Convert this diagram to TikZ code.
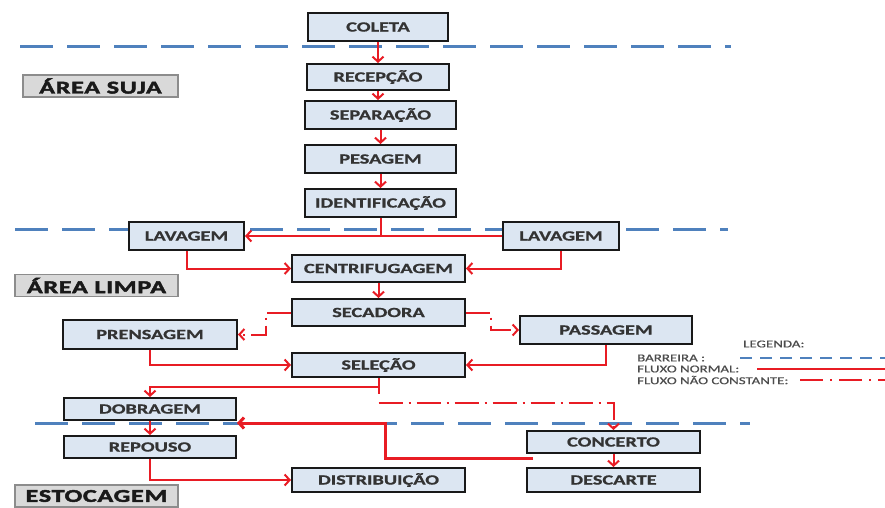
\documentclass[tikz,border=0pt]{standalone}
\usepackage{fontspec}
\usepackage{tikz}
\usetikzlibrary{arrows.meta}
\newfontfamily\boxfont[FakeStretch=1.45,FakeBold=1]{Carlito}
\newfontfamily\legfont[FakeStretch=1.42,FakeBold=0.6]{Carlito}
\newfontfamily\areafont[FakeStretch=1.45,FakeBold=2.5,LetterSpace=4]{Carlito}
\definecolor{boxfill}{RGB}{220,230,242}
\definecolor{barblue}{RGB}{79,129,189}
\definecolor{flowred}{RGB}{232,28,36}
\definecolor{areagray}{RGB}{217,217,217}

\begin{document}
\begin{tikzpicture}[x=1pt, y=-1pt,
    etapa/.style={draw=black!90, line width=2pt, fill=boxfill, inner sep=0pt,
        minimum width=173pt, minimum height=27pt, text=black!80,
        font=\boxfont\bfseries\fontsize{14pt}{16pt}\selectfont},
    area/.style={draw=black!45, line width=1.2pt, fill=areagray, inner sep=0pt,
        minimum height=22pt, text=black!90,
        font=\areafont\bfseries\fontsize{18pt}{20pt}\selectfont},
    legtxt/.style={anchor=west, inner sep=0pt, text=black!70,
        font=\legfont\fontsize{10.5pt}{12pt}\selectfont},
    barreira/.style={barblue, line width=3pt, dash pattern=on 33pt off 14pt},
    linha/.style={flowred, line width=2pt},
    flow/.style={linha, -{Straight Barb[length=5pt,width=11pt]}},
    naoconst/.style={flow, dash pattern=on 24pt off 6pt on 2pt off 6pt}]
    \useasboundingbox (0,0) rectangle (885,507);

    % barreiras
    \draw[barreira] (20,46) -- (731,46);
    \draw[barreira] (15,229) -- (728,229);
    \draw[barreira] (35,423) -- (750,423);

    % areas
    \node[area, minimum width=155pt] (suja) at (100.5,86) {ÁREA SUJA};
    \node[area, minimum width=163pt] (limpa) at (96.5,285.5) {ÁREA LIMPA};
    \node[area, minimum width=163pt] (estoc) at (96.5,496) {ESTOCAGEM};

    % etapas
    \node[etapa, minimum width=140pt, minimum height=28pt] (coleta) at (378,27) {COLETA};
    \node[etapa, minimum width=142pt, minimum height=26pt] (recep) at (378,77) {RECEPÇÃO};
    \node[etapa, minimum width=151pt, minimum height=28pt] (separ) at (380.5,115) {SEPARAÇÃO};
    \node[etapa, minimum width=151pt, minimum height=28pt] (pesag) at (380.5,159) {PESAGEM};
    \node[etapa, minimum width=151pt, minimum height=28pt] (ident) at (380.5,203) {IDENTIFICAÇÃO};
    \node[etapa, minimum width=115pt, minimum height=28pt] (lavL) at (186.5,236) {LAVAGEM};
    \node[etapa, minimum width=116pt, minimum height=28pt] (lavR) at (561,236) {LAVAGEM};
    \node[etapa] (centr) at (378.5,268.5) {CENTRIFUGAGEM};
    \node[etapa] (secad) at (378.5,312.5) {SECADORA};
    \node[etapa, minimum width=174pt, minimum height=29pt] (prens) at (150,334.5) {PRENSAGEM};
    \node[etapa, minimum width=172pt, minimum height=28pt] (passag) at (606,330) {PASSAGEM};
    \node[etapa, minimum height=24pt] (selec) at (378.5,365) {SELEÇÃO};
    \node[etapa, minimum width=172pt, minimum height=22pt] (dobr) at (150,409) {DOBRAGEM};
    \node[etapa, minimum width=172pt, minimum height=22pt] (repous) at (150,447) {REPOUSO};
    \node[etapa, minimum height=24pt] (distr) at (378.5,480) {DISTRIBUIÇÃO};
    \node[etapa, minimum height=22pt] (conc) at (613.5,442) {CONCERTO};
    \node[etapa, minimum height=24pt] (desc) at (613.5,480) {DESCARTE};

    \coordinate (selfoot) at ([yshift=-16pt]selec.south);
    \coordinate (seljoin) at ([yshift=-9pt]selec.south);
    \coordinate (ncstart) at ([yshift=-25pt]selec.south);
    \coordinate (volta) at (385,423);

    % fluxo normal
    \draw[flow] (coleta) -- (recep);
    \draw[flow] (recep.south) -- (recep.south |- separ.north);
    \draw[flow] (separ) -- (pesag);
    \draw[flow] (pesag) -- (ident);
    \draw[linha] (ident.south) -- (ident.south |- lavL.east);
    \draw[flow, {Straight Barb[length=5pt,width=11pt]}-] (lavL.east) -- (lavR.west);
    \draw[flow] (lavL.south) |- (centr.west);
    \draw[flow] (lavR.south) |- (centr.east);
    \draw[flow] (centr) -- (secad);
    \draw[flow] (prens.south) |- (selec.west);
    \draw[flow] (passag.south) |- (selec.east);
    \draw[linha] (selec.south) -- (selfoot);
    \draw[flow] (seljoin) -| (dobr.north);
    \draw[flow] (dobr) -- (repous);
    \draw[flow] (repous.south) |- (distr.west);
    \draw[flow] (conc) -- (desc);
    \draw[flow, line width=3pt] ([xshift=7pt,yshift=-4pt]conc.south west) -| (volta) -- (dobr.south east |- volta);

    % fluxo nao constante
    \draw[naoconst] (secad.west) -| ([xshift=28pt]prens.east) -- (prens.east);
    \draw[naoconst] (secad.east) -| ([xshift=-28pt]passag.west) -- (passag.west);
    \draw[naoconst] (ncstart) -| (conc.north);

    % legenda
    \node[legtxt] (leg) at (743,344) {LEGENDA:};
    \node[legtxt] (legbar) at (637,358) {BARREIRA :};
    \node[legtxt] (legnorm) at (637,369) {FLUXO NORMAL:};
    \node[legtxt] (legnc) at (637,380) {FLUXO NÃO CONSTANTE:};
    \draw[barblue, line width=2pt, dash pattern=on 12pt off 8pt] (740,358) -- (885,358);
    \draw[linha, line width=2pt] (757,369) -- (885,369);
    \draw[linha, line width=2.2pt, dash pattern=on 23pt off 7pt on 2pt off 7pt] (800,380) -- (885,380);
\end{tikzpicture}
\end{document}
